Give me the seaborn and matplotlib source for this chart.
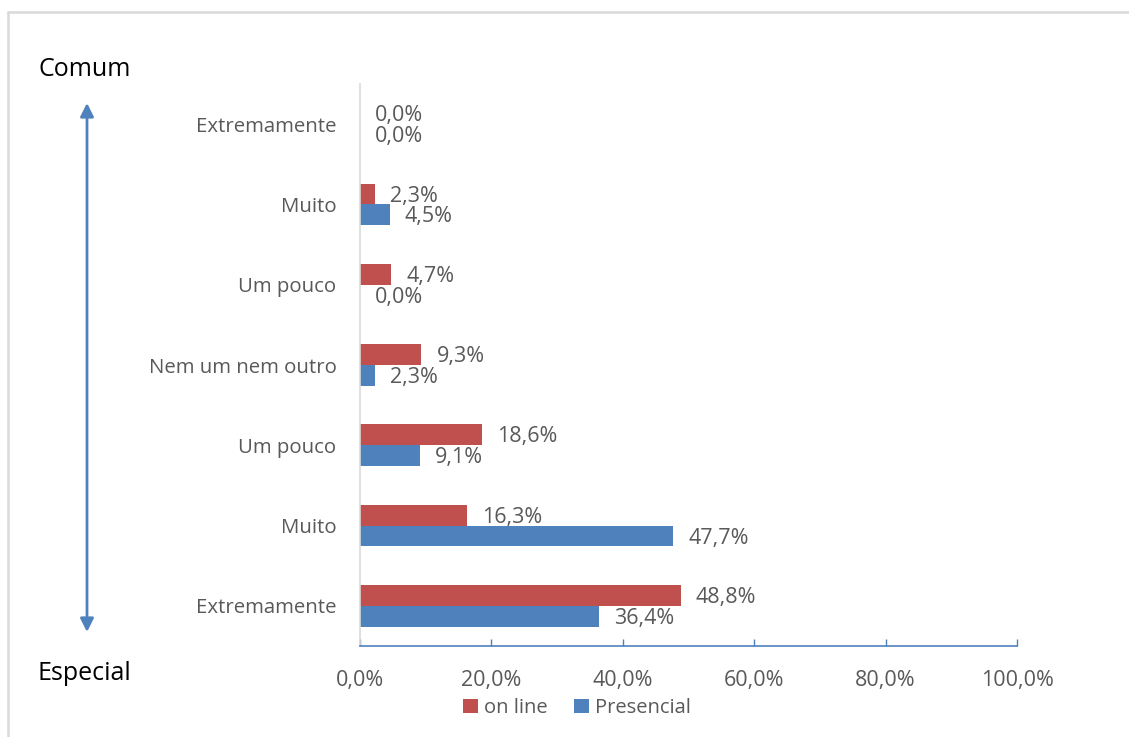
import matplotlib
matplotlib.use("Agg")
import matplotlib.pyplot as plt
from matplotlib.lines import Line2D
from matplotlib.patches import FancyArrowPatch, Patch
import seaborn as sns
import pandas as pd

# Survey data (percent), ordered from top (Comum) to bottom (Especial)
categories = ["Extremamente", "Muito", "Um pouco", "Nem um nem outro",
              "Um pouco", "Muito", "Extremamente"]
online = [0.0, 2.3, 4.7, 9.3, 18.6, 16.3, 48.8]
presencial = [0.0, 4.5, 0.0, 2.3, 9.1, 47.7, 36.4]
series_names = ["on line", "Presencial"]
x_ticks = [0, 20, 40, 60, 80, 100]

RED = "#C0504D"
BLUE = "#4F81BD"
GREY_TXT = "#595959"
FONT = "Open Sans"

sns.set_theme(style="white")
plt.rcParams["font.family"] = [FONT, "DejaVu Sans"]

keys = [f"k{i}" for i in range(len(categories))]
df = pd.DataFrame({
    "key": keys * 2,
    "value": online + presencial,
    "serie": [series_names[0]] * len(keys) + [series_names[1]] * len(keys),
})

fig = plt.figure(figsize=(11.29, 7.37), dpi=100)
ax = fig.add_axes([360 / 1129, 1 - 646 / 737, 657 / 1129, 562 / 737])

sns.barplot(data=df, y="key", x="value", hue="serie", order=keys,
            hue_order=series_names, palette=[RED, BLUE], orient="h",
            width=0.52, gap=0, saturation=1, linewidth=0,
            ax=ax, legend=False)

ax.set_xlim(0, 100)
ax.set_ylim(len(keys) - 0.5, -0.5)
ax.set_xticks(x_ticks)
ax.set_xticklabels([f"{v:.1f}%".replace(".", ",") for v in x_ticks])
ax.set_yticks(range(len(keys)))
ax.set_yticklabels(categories)
ax.set_xlabel("")
ax.set_ylabel("")

ax.tick_params(axis="x", bottom=True, direction="in", length=5, width=1,
               color=BLUE, pad=17, labelsize=15.5, labelcolor=GREY_TXT)
ax.tick_params(axis="y", left=False, length=0, pad=17, labelsize=14.7,
               labelcolor=GREY_TXT)

for side in ["top", "right"]:
    ax.spines[side].set_visible(False)
ax.spines["left"].set_color("#D9D9D9")
ax.spines["left"].set_linewidth(1.2)
ax.spines["bottom"].set_color(BLUE)
ax.spines["bottom"].set_linewidth(1.2)

# Value labels at the end of each bar
for container, vals in zip(ax.containers, [online, presencial]):
    texts = ax.bar_label(container,
                         labels=[f"{v:.1f}%".replace(".", ",") for v in vals],
                         padding=11, fontsize=15.5, color=GREY_TXT)
    for t in texts:
        t.set_va("center")
        x0, y0 = t.get_position()
        t.set_position((x0, y0 - 1.5))

# Legend below the axis
handles = [Patch(facecolor=RED, edgecolor="none"),
           Patch(facecolor=BLUE, edgecolor="none")]
fig.legend(handles, series_names, loc="center",
           bbox_to_anchor=(577 / 1129, 1 - 708 / 737), ncol=2,
           frameon=False, handlelength=0.75, handleheight=0.75,
           handletextpad=0.3, columnspacing=1.3,
           prop={"size": 14.5}, labelcolor=GREY_TXT)

# Scale ends and the double-headed arrow between them
fig.text(38 / 1129, 1 - 70 / 737, "Comum", fontsize=18, color="black",
         ha="left", va="center")
fig.text(38 / 1129, 1 - 674 / 737, "Especial", fontsize=18,
         color="black", ha="left", va="center")
arrow = FancyArrowPatch((87 / 1129, 1 - 103 / 737), (87 / 1129, 1 - 632 / 737),
                        transform=fig.transFigure, arrowstyle="<|-|>",
                        mutation_scale=20, color=BLUE, lw=2,
                        shrinkA=0, shrinkB=0)
fig.add_artist(arrow)

# Light frame around the chart area
fig.add_artist(Line2D([8 / 1129, 1], [1 - 12 / 737, 1 - 12 / 737],
                      transform=fig.transFigure, color="#D9D9D9", lw=1.8))
fig.add_artist(Line2D([8 / 1129, 8 / 1129], [0, 1 - 12 / 737],
                      transform=fig.transFigure, color="#D9D9D9", lw=1.8))

fig.savefig("out.png", dpi=100)
